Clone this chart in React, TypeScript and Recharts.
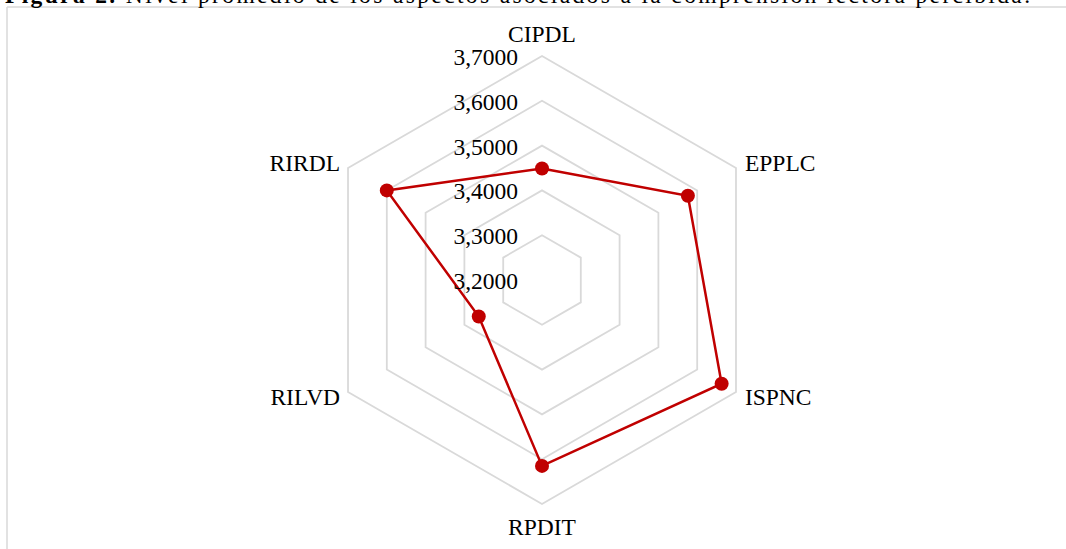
import { RadarChart, Radar, PolarGrid, PolarAngleAxis, PolarRadiusAxis } from "recharts";

const categories = ["CIPDL", "EPPLC", "ISPNC", "RPDIT", "RILVD", "RIRDL"];
const promedio = [3.449, 3.576, 3.663, 3.615, 3.363, 3.6];
// radial axis runs from 3,2000 (centre) to 3,7000 in steps of 0,1
const radiusBase = 3.2;
const radiusStep = 0.1;
const radiusTicks = [0, 1, 2, 3, 4, 5];

// plotted in steps above the centre value so the scale keeps its exact domain
const data = categories.map((c, i) => ({
  aspecto: c,
  valor: promedio[i],
  pasos: (promedio[i] - radiusBase) / radiusStep,
}));

const FONT = '"Liberation Serif", "Times New Roman", serif';
const RED = "#c00000";
const GRID = "#d9d9d9";

const fmt = (t: number) => (radiusBase + t * radiusStep).toFixed(4).replace(".", ",");

function AngleTick(props: any) {
  const { x, y, textAnchor, payload } = props;
  const rad = (payload.coordinate * Math.PI) / 180;
  const up = Math.sin(rad) > 0;
  let dx = 0;
  let dy = 0;
  if (textAnchor === "middle") {
    dy = up ? -14 : 14.5;
  } else {
    dx = textAnchor === "start" ? 2 : -1;
    dy = up ? -1 : 1;
  }
  return (
    <text
      x={x + dx}
      y={y + dy}
      textAnchor={textAnchor}
      dominantBaseline="central"
      fontFamily={FONT}
      fontSize={23.5}
      fill="#000"
    >
      {payload.value}
    </text>
  );
}

function RadiusTick(props: any) {
  const { x, y, payload } = props;
  return (
    <text
      x={x - 24}
      y={y + 1}
      textAnchor="end"
      dominantBaseline="central"
      fontFamily={FONT}
      fontSize={23.5}
      fill="#000"
    >
      {fmt(payload.value)}
    </text>
  );
}

export default function App() {
  return (
    <div
      style={{
        position: "absolute",
        left: 0,
        top: 0,
        width: 1066,
        height: 549,
        background: "#fff",
        overflow: "hidden",
      }}
    >
      {/* frame + cropped caption */}
      <svg width={1066} height={549} style={{ position: "absolute", left: 0, top: 0 }}>
        <line x1={7} y1={7} x2={1066} y2={7} stroke={GRID} strokeWidth={1.5} />
        <line x1={7} y1={7} x2={7} y2={549} stroke={GRID} strokeWidth={1.5} />
        <text x={5} y={3} fontFamily={FONT} fontSize={23.5} fill="#000" textLength={1025} lengthAdjust="spacing">
          <tspan fontWeight="bold">Figura 2.</tspan>
          <tspan> Nivel promedio de los aspectos asociados a la comprensión lectora percibida.</tspan>
        </text>
      </svg>

      <div style={{ position: "absolute", left: 0, top: 0 }}>
        <RadarChart
          width={1066}
          height={549}
          data={data}
          cx={542}
          cy={280}
          outerRadius={224}
          margin={{ top: 0, right: 0, bottom: 0, left: 0 }}
        >
          <PolarGrid gridType="polygon" radialLines={false} stroke={GRID} strokeWidth={1.8} />
          <PolarAngleAxis dataKey="aspecto" tick={<AngleTick />} tickLine={false} axisLine={false} />
          <PolarRadiusAxis
            angle={90}
            type="number"
            domain={[0, 5]}
            allowDataOverflow
            tickCount={6}
            ticks={radiusTicks as any}
            axisLine={false}
            tickLine={false}
            tick={<RadiusTick />}
          />
          <Radar
            dataKey="pasos"
            stroke={RED}
            strokeWidth={2.5}
            fill="none"
            fillOpacity={0}
            dot={{ r: 7, fill: RED, stroke: RED, strokeWidth: 0, fillOpacity: 1 }}
            isAnimationActive={false}
          />
        </RadarChart>
      </div>
    </div>
  );
}
